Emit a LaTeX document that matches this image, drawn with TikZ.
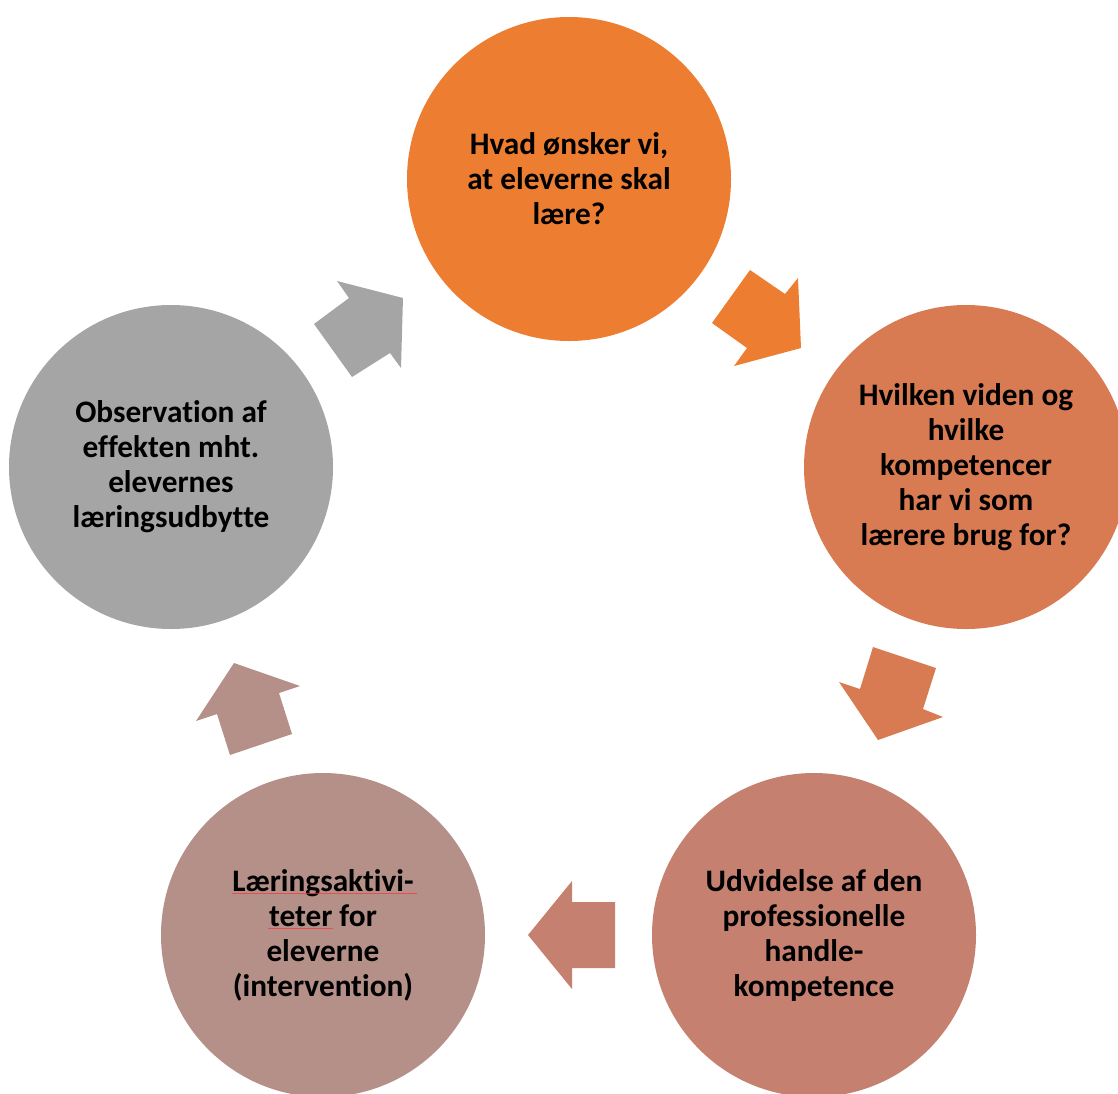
\documentclass[tikz,border=0pt]{standalone}
\usepackage{fontspec}
\setmainfont{Carlito}[Ligatures=NoCommon]
\definecolor{cA}{RGB}{237,125,49}
\definecolor{cB}{RGB}{216,123,83}
\definecolor{cC}{RGB}{197,128,112}
\definecolor{cD}{RGB}{180,144,137}
\definecolor{cE}{RGB}{165,165,165}
\begin{document}
\begin{tikzpicture}[x=1pt,y=-1pt,
  stage/.style={circle,minimum size=324pt,inner sep=0pt,align=center,
    font=\fontsize{31.3}{35}\selectfont\bfseries,text=black},
  blockarrow/.style={draw=none}]
\useasboundingbox (0,0) rectangle (1118,1093);
\node[stage,fill=cA] (s1) at (569,179) {Hvad ønsker vi,\\at eleverne skal\\lære?};
\node[stage,fill=cB] (s2) at (966,467) {Hvilken viden og\\hvilke\\kompetencer\\har vi som\\lærere brug for?};
\node[stage,fill=cC] (s3) at (814,935) {Udvidelse af den\\professionelle\\handle-\\kompetence};
\node[stage,fill=cD] (s4) at (323,935) {Læringsaktivi-\\teter for\\eleverne\\(intervention)};
\node[stage,fill=cE] (s5) at (171,467) {Observation af\\effekten mht.\\elevernes\\læringsudbytte};
% block arrows
\fill[cA] (750,270) -- (785,294) -- (798,278) -- (801,348) -- (734,366) -- (747,348) -- (712,323) -- cycle;
\fill[cB] (873,647) -- (936,668) -- (923,709) -- (943,717) -- (878,740) -- (839,682) -- (860,689) -- cycle;
\fill[cC] (528,935) -- (572,881) -- (572,902) -- (615,902) -- (615,968) -- (572,968) -- (572,989) -- cycle;
\fill[cD] (234,663) -- (300,686) -- (279,693) -- (292,734) -- (230,755) -- (217,714) -- (196,721) -- cycle;
\fill[cE] (337,281) -- (403,298) -- (401,368) -- (390,353) -- (352,377) -- (314,324) -- (349,298) -- cycle;
% spell-check underlines
\draw[red!80,line width=0.7pt,opacity=0.7] (232,893) -- (417,893);
\draw[red!80,line width=0.7pt,opacity=0.7] (268,928) -- (333,928);
\end{tikzpicture}
\end{document}
